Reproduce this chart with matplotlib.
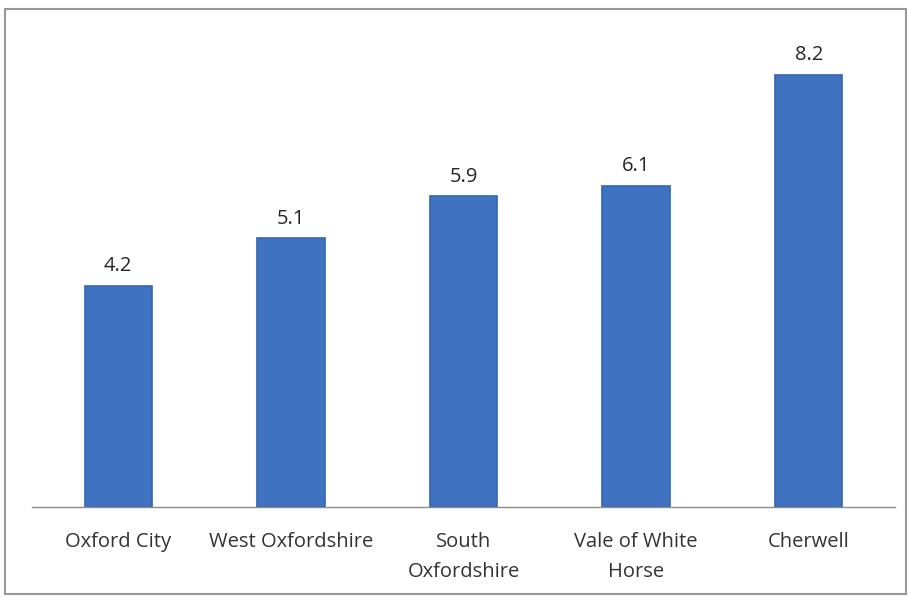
import matplotlib.pyplot as plt
from matplotlib.patches import Rectangle

# data
districts = ["Oxford City", "West Oxfordshire", "South\nOxfordshire",
             "Vale of White\nHorse", "Cherwell"]
values = [4.2, 5.1, 5.9, 6.1, 8.2]

plt.rcParams['font.family'] = ['Open Sans', 'DejaVu Sans']

fig = plt.figure(figsize=(9.08, 5.97), dpi=100)
ax = fig.add_axes([32/908, 90/597, 863/908, 474/597])

x = range(len(districts))
bars = ax.bar(x, values, width=0.39, color="#3f72c0", edgecolor="#3566b0", linewidth=1.2)

for b, v in zip(bars, values):
    ax.annotate(f"{v:.1f}", (b.get_x() + b.get_width()/2, v),
                xytext=(0, 7), textcoords="offset points",
                ha="center", va="bottom", fontsize=14.5, color="#262626")

ax.set_xlim(-0.5, len(districts) - 0.5)
ax.set_ylim(0, 9)
ax.set_xticks(list(x))
ax.set_xticklabels(districts, fontsize=14.5, color="#333333", linespacing=1.65)
ax.tick_params(axis="x", length=0, pad=18)
ax.set_yticks([])
for s in ["top", "right", "left"]:
    ax.spines[s].set_visible(False)
ax.spines["bottom"].set_color("#8c8c8c")
ax.spines["bottom"].set_linewidth(1.0)

# outer chart frame
fig.patches.append(Rectangle((5/908, 3/597), 901/908, 585/597, transform=fig.transFigure,
                             fill=False, edgecolor="#999999", linewidth=1.5))

fig.savefig("out.png", dpi=100)
